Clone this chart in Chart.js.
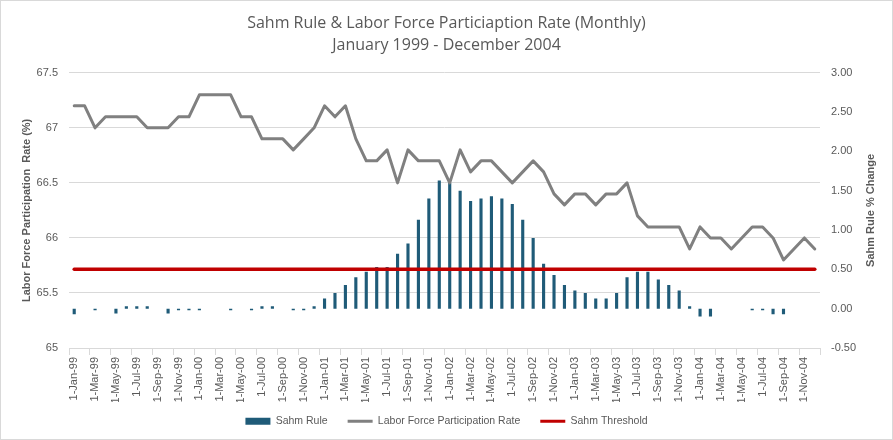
<!DOCTYPE html>
<html>
<head>
<meta charset="utf-8">
<script src="https://cdn.jsdelivr.net/npm/chart.js@4/dist/chart.umd.min.js"></script>
<style>
  html, body { margin: 0; padding: 0; background: #ffffff; }
  #wrap { width: 893px; height: 440px; position: relative; }
</style>
</head>
<body>
<div id="wrap"><canvas id="c" width="893" height="440"></canvas></div>
<script>
const categories = [
  "1-Jan-99","1-Feb-99","1-Mar-99","1-Apr-99","1-May-99","1-Jun-99","1-Jul-99","1-Aug-99","1-Sep-99","1-Oct-99","1-Nov-99","1-Dec-99",
  "1-Jan-00","1-Feb-00","1-Mar-00","1-Apr-00","1-May-00","1-Jun-00","1-Jul-00","1-Aug-00","1-Sep-00","1-Oct-00","1-Nov-00","1-Dec-00",
  "1-Jan-01","1-Feb-01","1-Mar-01","1-Apr-01","1-May-01","1-Jun-01","1-Jul-01","1-Aug-01","1-Sep-01","1-Oct-01","1-Nov-01","1-Dec-01",
  "1-Jan-02","1-Feb-02","1-Mar-02","1-Apr-02","1-May-02","1-Jun-02","1-Jul-02","1-Aug-02","1-Sep-02","1-Oct-02","1-Nov-02","1-Dec-02",
  "1-Jan-03","1-Feb-03","1-Mar-03","1-Apr-03","1-May-03","1-Jun-03","1-Jul-03","1-Aug-03","1-Sep-03","1-Oct-03","1-Nov-03","1-Dec-03",
  "1-Jan-04","1-Feb-04","1-Mar-04","1-Apr-04","1-May-04","1-Jun-04","1-Jul-04","1-Aug-04","1-Sep-04","1-Oct-04","1-Nov-04","1-Dec-04"
];

const sahmRule = [
  -0.07, 0, -0.02, 0, -0.06, 0.03, 0.03, 0.03, 0, -0.06, -0.02, -0.02,
  -0.02, 0, 0, -0.02, 0, -0.02, 0.03, 0.03, 0, -0.02, -0.02, 0.03,
  0.13, 0.20, 0.30, 0.40, 0.47, 0.53, 0.53, 0.70, 0.83, 1.13, 1.40, 1.63,
  1.60, 1.50, 1.37, 1.40, 1.43, 1.40, 1.33, 1.13, 0.90, 0.57, 0.43, 0.30,
  0.23, 0.20, 0.13, 0.13, 0.20, 0.40, 0.47, 0.47, 0.37, 0.30, 0.23, 0.03,
  -0.10, -0.10, 0, 0, 0, -0.02, -0.02, -0.07, -0.07, 0, 0, 0
];

const laborForceRate = [
  67.2, 67.2, 67.0, 67.1, 67.1, 67.1, 67.1, 67.0, 67.0, 67.0, 67.1, 67.1,
  67.3, 67.3, 67.3, 67.3, 67.1, 67.1, 66.9, 66.9, 66.9, 66.8, 66.9, 67.0,
  67.2, 67.1, 67.2, 66.9, 66.7, 66.7, 66.8, 66.5, 66.8, 66.7, 66.7, 66.7,
  66.5, 66.8, 66.6, 66.7, 66.7, 66.6, 66.5, 66.6, 66.7, 66.6, 66.4, 66.3,
  66.4, 66.4, 66.3, 66.4, 66.4, 66.5, 66.2, 66.1, 66.1, 66.1, 66.1, 65.9,
  66.1, 66.0, 66.0, 65.9, 66.0, 66.1, 66.1, 66.0, 65.8, 65.9, 66.0, 65.9
];

const sahmThreshold = [
  0.5, 0.5, 0.5, 0.5, 0.5, 0.5, 0.5, 0.5, 0.5, 0.5, 0.5, 0.5,
  0.5, 0.5, 0.5, 0.5, 0.5, 0.5, 0.5, 0.5, 0.5, 0.5, 0.5, 0.5,
  0.5, 0.5, 0.5, 0.5, 0.5, 0.5, 0.5, 0.5, 0.5, 0.5, 0.5, 0.5,
  0.5, 0.5, 0.5, 0.5, 0.5, 0.5, 0.5, 0.5, 0.5, 0.5, 0.5, 0.5,
  0.5, 0.5, 0.5, 0.5, 0.5, 0.5, 0.5, 0.5, 0.5, 0.5, 0.5, 0.5,
  0.5, 0.5, 0.5, 0.5, 0.5, 0.5, 0.5, 0.5, 0.5, 0.5, 0.5, 0.5
];

const leftTicks = [65, 65.5, 66, 66.5, 67, 67.5];
const rightTicks = [-0.5, 0, 0.5, 1.0, 1.5, 2.0, 2.5, 3.0];

const titleLines = ["Sahm Rule & Labor Force Particiaption Rate (Monthly)", "January 1999 - December 2004"];
const seriesNames = ["Sahm Rule", "Labor Force Participation Rate", "Sahm Threshold"];
const leftAxisTitle = 'Labor Force Participation  Rate (%)';
const rightAxisTitle = 'Sahm Rule % Change';

const colBar = '#1f5b78';
const colLine = '#808080';
const colRed = '#c00000';
const textCol = '#595959';
const gridCol = '#d9d9d9';

const frame = {
  id: 'frame',
  afterLayout(chart) {
    // nudge the legend row up to sit where the reference places it
    if (chart.legend) {
      chart.legend.top -= 6;
      chart.legend.bottom -= 6;
    }
  },
  afterDraw(chart) {
    const ctx = chart.ctx;
    ctx.save();
    ctx.strokeStyle = '#d9d9d9';
    ctx.lineWidth = 1;
    ctx.strokeRect(0.5, 0.5, chart.width - 1, chart.height - 1);
    // right axis title, reading bottom-to-top like the reference
    const area = chart.chartArea;
    const s = chart.scales.y1;
    ctx.translate(s.right - 22, (area.top + area.bottom) / 2);
    ctx.rotate(-Math.PI / 2);
    ctx.fillStyle = textCol;
    ctx.font = 'bold 11px "Liberation Sans"';
    ctx.textAlign = 'center';
    ctx.textBaseline = 'middle';
    ctx.fillText(rightAxisTitle, 0, 0);
    ctx.restore();
  }
};

new Chart(document.getElementById('c'), {
  data: {
    labels: categories,
    datasets: [
      {
        type: 'bar', label: seriesNames[0], data: sahmRule, yAxisID: 'y1',
        backgroundColor: colBar, borderWidth: 0,
        barPercentage: 0.3, categoryPercentage: 1.0, order: 3
      },
      {
        type: 'line', label: seriesNames[1], data: laborForceRate, yAxisID: 'y',
        borderColor: colLine, backgroundColor: colLine, borderWidth: 3,
        pointRadius: 0, tension: 0, order: 2, borderJoinStyle: 'round', borderCapStyle: 'round'
      },
      {
        type: 'line', label: seriesNames[2], data: sahmThreshold, yAxisID: 'y1',
        borderColor: colRed, backgroundColor: colRed, borderWidth: 3.5,
        pointRadius: 0, tension: 0, order: 1, borderCapStyle: 'round'
      }
    ]
  },
  options: {
    responsive: false,
    animation: false,
    events: [],
    layout: { padding: { left: 0, right: 0, top: 0, bottom: 0 } },
    plugins: {
      tooltip: { enabled: false },
      title: {
        display: true,
        text: titleLines,
        color: textCol,
        font: { family: 'Open Sans', size: 16, weight: 'normal', lineHeight: 1.4 },
        padding: { top: 12, bottom: 16 }
      },
      legend: {
        position: 'bottom',
        maxHeight: 38,
        labels: {
          color: textCol,
          font: { family: 'Liberation Sans', size: 10.5 },
          usePointStyle: true,
          pointStyleWidth: 25,
          boxHeight: 7,
          padding: 20,
          sort: (a, b) => a.datasetIndex - b.datasetIndex,
          generateLabels: (chart) => chart.data.datasets.map((ds, i) => ({
            text: ds.label,
            fillStyle: i === 0 ? colBar : ds.borderColor,
            strokeStyle: i === 0 ? colBar : ds.borderColor,
            lineWidth: i === 0 ? 0 : 3,
            pointStyle: i === 0 ? 'rect' : 'line',
            hidden: false,
            datasetIndex: i,
            fontColor: textCol
          }))
        }
      }
    },
    scales: {
      x: {
        type: 'category',
        offset: true,
        grid: {
          display: true, drawOnChartArea: false, drawTicks: true, tickLength: 7, offset: true,
          color: (ctx) => (ctx.type !== 'tick' || ctx.index % 2 === 0) ? gridCol : 'rgba(0,0,0,0)'
        },
        border: { display: true, color: gridCol, width: 1 },
        ticks: {
          autoSkip: false, maxRotation: 90, minRotation: 90, padding: 2,
          color: textCol, font: { family: 'Liberation Sans', size: 11 },
          callback: (v, i) => (i % 2 === 0 ? categories[i] : '')
        },
        afterFit: (s) => { s.height = 54; }
      },
      y: {
        position: 'left',
        min: 65, max: 67.5,
        afterBuildTicks: (s) => { s.ticks = leftTicks.map(v => ({ value: v })); },
        grid: { color: gridCol, drawTicks: false, lineWidth: 1 },
        border: { display: false },
        ticks: {
          color: textCol, padding: 11,
          font: { family: 'Liberation Sans', size: 11 },
          callback: (v) => String(v)
        },
        title: {
          display: true, text: leftAxisTitle, color: textCol,
          font: { family: 'Liberation Sans', size: 11, weight: 'bold' },
          padding: { top: 20, bottom: 0 }
        },
        afterFit: (s) => { s.width = 69; }
      },
      y1: {
        position: 'right',
        min: -0.5, max: 3.0,
        afterBuildTicks: (s) => { s.ticks = rightTicks.map(v => ({ value: v })); },
        grid: { display: false, drawTicks: false },
        border: { display: false },
        ticks: {
          color: textCol, padding: 11,
          font: { family: 'Liberation Sans', size: 11 },
          callback: (v) => Number(v).toFixed(2)
        },
        title: { display: false },
        afterFit: (s) => { s.width = 73; }
      }
    }
  },
  plugins: [frame]
});
</script>
</body>
</html>
